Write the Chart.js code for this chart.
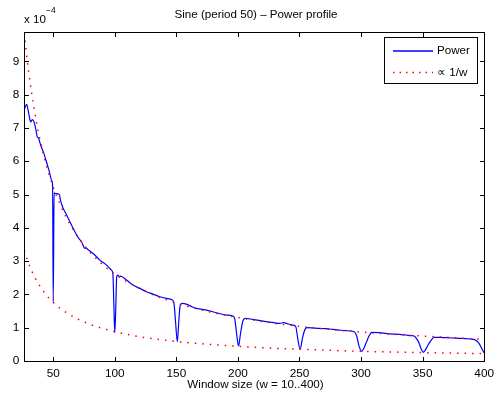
<!DOCTYPE html>
<html>
<head>
<meta charset="utf-8">
<script src="https://cdn.jsdelivr.net/npm/chart.js@4/dist/chart.umd.min.js"></script>
<style>
  html, body { margin: 0; padding: 0; background: #fff; }
  canvas { display: block; }
</style>
</head>
<body>
<canvas id="powerChart" width="500" height="408"></canvas>
<script>
// values on the y axis are in units of 1e-4
const xTicks = [50, 100, 150, 200, 250, 300, 350, 400];
const yTicks = [0, 1, 2, 3, 4, 5, 6, 7, 8, 9];

const powerW = [26.5, 27.5, 28.4, 29.5, 30.5, 31.7, 33, 34.4, 35.3, 36, 37, 38, 39, 39.8, 42, 44.1, 46.5, 48.7, 49.5,
  50, 50.7, 51.9, 54.9, 56, 58.1, 60, 63.5, 67.6, 70, 73, 75.7, 76.5, 78, 82.4, 87.8, 93.3, 97.3, 98.5,
  99.3, 100, 100.8, 101.5, 102.2, 104, 104.7, 109.5, 114.8, 120.3, 125.7, 131, 136.5, 141.9, 146.8, 148,
  149.3, 150.8, 152, 153.2, 155, 158, 162, 166.2, 170, 174.3, 182.4, 190.5, 195.9, 197.5,
  199, 200.5, 202, 204, 206, 212, 217, 222.9, 228, 233.7, 237.4, 241, 244.5, 247,
  248.5, 250.5, 252.5, 254.5, 256.6, 266, 271, 276.9, 282, 287.8, 294.5, 296.5,
  298.5, 300.7, 302.5, 304, 306.5, 308.8, 314.8, 320, 325.5, 331, 336.4, 341, 343.1, 345.5,
  347.2, 349, 350.6, 352.5, 355.2, 357.5, 359.3, 364, 368.8, 374, 379.6, 385, 389, 391.7, 394,
  395.8, 398, 400];
const powerV = [7.55, 7.65, 7.71, 7.55, 7.35, 7.18, 7.25, 7.18, 7.05, 6.93, 6.73, 6.70, 6.58, 6.48, 6.28, 6.03, 5.73, 5.43, 5.25,
  1.78, 5.05, 5.03, 5.01, 4.81, 4.58, 4.45, 4.18, 3.88, 3.72, 3.58, 3.38, 3.40, 3.35, 3.23, 3.03, 2.88, 2.73, 2.60,
  1.6, 0.85, 1.6, 2.50, 2.58, 2.53, 2.55, 2.43, 2.28, 2.18, 2.08, 2.01, 1.93, 1.88, 1.83, 1.75,
  1.2, 0.58, 1.2, 1.68, 1.73, 1.71, 1.64, 1.58, 1.56, 1.53, 1.45, 1.38, 1.35, 1.25,
  0.8, 0.45, 0.8, 1.2, 1.28, 1.25, 1.22, 1.18, 1.16, 1.13, 1.15, 1.11, 1.08, 1.03,
  0.7, 0.35, 0.7, 0.95, 1.0, 0.98, 0.97, 0.95, 0.93, 0.91, 0.88, 0.75,
  0.43, 0.29, 0.40, 0.53, 0.75, 0.86, 0.85, 0.83, 0.81, 0.80, 0.78, 0.76, 0.75, 0.65,
  0.53, 0.35, 0.26, 0.35, 0.53, 0.65, 0.71, 0.71, 0.70, 0.69, 0.68, 0.67, 0.66, 0.65, 0.60,
  0.53, 0.38, 0.24];

// the two dotted "proportional to 1/w" reference curves
const refW = [26.5, 28, 30, 32, 35, 38, 42, 46, 50, 55, 60, 70, 80, 90, 100, 120, 140, 160, 180, 200, 230, 260, 300, 340, 370, 400];
const refUpper = [9.85, 9.32, 8.70, 8.16, 7.46, 6.87, 6.21, 5.67, 5.22, 4.75, 4.35, 3.73, 3.26, 2.90, 2.61, 2.18, 1.86, 1.63, 1.45, 1.31, 1.13, 1.00, 0.87, 0.77, 0.71, 0.65];
const refLower = [3.32, 3.14, 2.93, 2.75, 2.51, 2.32, 2.10, 1.91, 1.76, 1.60, 1.47, 1.26, 1.10, 0.98, 0.88, 0.73, 0.63, 0.55, 0.49, 0.44, 0.38, 0.34, 0.29, 0.26, 0.24, 0.22];

const FONT = 'Liberation Sans, Arial, Helvetica, sans-serif';

function pts(xs, ys) {
    return xs.map((x, i) => ({ x: x, y: ys[i] }));
}

// frame, inward ticks, titles and legend box, MATLAB style
const matlabDecor = {
    id: 'matlabDecor',
    afterDraw(chart) {
        const ctx = chart.ctx;
        const a = chart.chartArea;
        const xs = chart.scales.x, ys = chart.scales.y;
        const L = Math.round(a.left) + 0.5, R = Math.round(a.right) + 0.5;
        const T = Math.round(a.top) + 0.5, B = Math.round(a.bottom) + 0.5;
        const tl = 4.5;

        ctx.save();
        ctx.strokeStyle = '#000';
        ctx.lineWidth = 1;
        ctx.strokeRect(L, T, R - L, B - T);

        ctx.beginPath();
        xTicks.forEach(v => {
            const px = Math.round(xs.getPixelForValue(v)) + 0.5;
            ctx.moveTo(px, B); ctx.lineTo(px, B - tl);
            ctx.moveTo(px, T); ctx.lineTo(px, T + tl);
        });
        yTicks.forEach(v => {
            const py = Math.round(ys.getPixelForValue(v)) + 0.5;
            ctx.moveTo(L, py); ctx.lineTo(L + tl, py);
            ctx.moveTo(R, py); ctx.lineTo(R - tl, py);
        });
        ctx.stroke();

        ctx.fillStyle = '#000';
        ctx.textBaseline = 'middle';
        ctx.textAlign = 'center';
        ctx.font = '11.6px ' + FONT;
        ctx.fillText('Sine (period 50) \u2013 Power profile', 256, 15);
        ctx.fillText('Window size (w = 10..400)', 255.5, 385);

        // exponent label
        ctx.textAlign = 'left';
        ctx.fillText('x 10', 24, 19.5);
        ctx.font = '8.5px ' + FONT;
        ctx.fillText('\u22124', 46, 10.5);

        // legend
        const bx = 384.5, by = 37.5, bw = 93, bh = 46;
        ctx.fillStyle = '#fff';
        ctx.fillRect(bx, by, bw, bh);
        ctx.strokeStyle = '#000';
        ctx.strokeRect(bx, by, bw, bh);

        ctx.lineWidth = 1.3;
        ctx.strokeStyle = '#0000ff';
        ctx.beginPath();
        ctx.moveTo(393, 51); ctx.lineTo(433, 51);
        ctx.stroke();

        ctx.strokeStyle = '#ff0000';
        ctx.lineWidth = 1.5;
        ctx.setLineDash([1.5, 5]);
        ctx.beginPath();
        ctx.moveTo(393, 72.5); ctx.lineTo(433, 72.5);
        ctx.stroke();
        ctx.setLineDash([]);

        ctx.fillStyle = '#000';
        ctx.font = '11.6px ' + FONT;
        ctx.textAlign = 'left';
        ctx.fillText('Power', 437, 51);
        ctx.fillText('\u221d 1/w', 437, 72.5);
        ctx.restore();
    }
};

const ctx = document.getElementById('powerChart').getContext('2d');
new Chart(ctx, {
    type: 'line',
    data: {
        datasets: [
            {
                label: '\u221d 1/w',
                data: pts(refW, refUpper),
                borderColor: '#ff0000',
                borderWidth: 1.5,
                borderDash: [1.5, 6],
                pointRadius: 0,
                cubicInterpolationMode: 'monotone',
                order: 0
            },
            {
                label: '\u221d 1/w (lower)',
                data: pts(refW, refLower),
                borderColor: '#ff0000',
                borderWidth: 1.5,
                borderDash: [1.5, 6],
                pointRadius: 0,
                cubicInterpolationMode: 'monotone',
                order: 0
            },
            {
                label: 'Power',
                data: pts(powerW, powerV),
                borderColor: '#0000ff',
                borderWidth: 1.2,
                pointRadius: 0,
                cubicInterpolationMode: 'monotone',
                order: 1
            }
        ]
    },
    options: {
        responsive: false,
        animation: false,
        devicePixelRatio: 1,
        layout: {
            padding: { top: 32, right: 14.5, left: 0, bottom: 0 }
        },
        plugins: {
            legend: { display: false },
            tooltip: { enabled: false },
            title: { display: false }
        },
        scales: {
            x: {
                type: 'linear',
                min: 26.5,
                max: 400,
                afterBuildTicks: s => { s.ticks = xTicks.map(v => ({ value: v })); },
                afterFit: s => { s.height = 47; },
                grid: { display: false, drawTicks: false },
                border: { display: false },
                ticks: {
                    autoSkip: false,
                    maxRotation: 0,
                    padding: 6,
                    color: '#000',
                    font: { family: FONT, size: 11.8 }
                }
            },
            y: {
                type: 'linear',
                min: 0,
                max: 9.88,
                afterBuildTicks: s => { s.ticks = yTicks.map(v => ({ value: v })); },
                afterFit: s => { s.width = 24.3; },
                grid: { display: false, drawTicks: false },
                border: { display: false },
                ticks: {
                    padding: 5,
                    color: '#000',
                    font: { family: FONT, size: 11.8 }
                }
            }
        }
    },
    plugins: [matlabDecor]
});
</script>
</body>
</html>
